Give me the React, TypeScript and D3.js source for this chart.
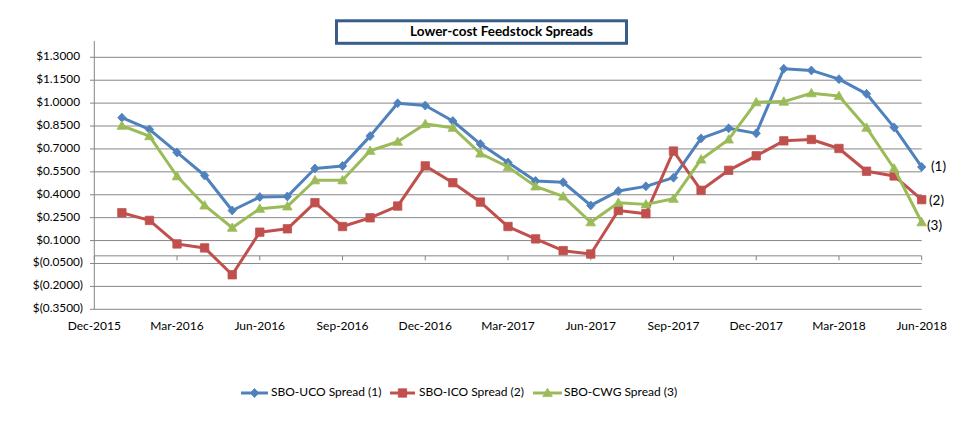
import React from "react";
import * as d3 from "d3";

const monthLabels = ["Dec-2015","Mar-2016","Jun-2016","Sep-2016","Dec-2016","Mar-2017","Jun-2017","Sep-2017","Dec-2017","Mar-2018","Jun-2018"];
// month index: 0 = Dec-2015, data from 1 (Jan-2016) to 30 (Jun-2018)
const monthIdx = d3.range(1, 31);
const uco = [0.905,0.828,0.677,0.526,0.297,0.385,0.389,0.572,0.589,0.784,0.999,0.984,0.883,0.732,0.611,0.490,0.482,0.330,0.424,0.455,0.512,0.769,0.835,0.802,1.225,1.214,1.157,1.061,0.841,0.582];
const ico = [0.282,0.232,0.078,0.052,-0.124,0.155,0.177,0.348,0.192,0.249,0.326,0.589,0.479,0.352,0.192,0.111,0.034,0.012,0.297,0.276,0.686,0.429,0.560,0.655,0.753,0.762,0.703,0.554,0.523,0.368];
const cwg = [0.852,0.784,0.521,0.330,0.184,0.309,0.324,0.495,0.495,0.688,0.747,0.863,0.839,0.670,0.582,0.455,0.389,0.220,0.348,0.337,0.374,0.631,0.762,1.006,1.010,1.065,1.047,0.839,0.572,0.220];
const yTicks = [-0.35,-0.20,-0.05,0.10,0.25,0.40,0.55,0.70,0.85,1.00,1.15,1.30];
const seriesNames = ["SBO-UCO Spread (1)","SBO-ICO Spread (2)","SBO-CWG Spread (3)"];
const endLabels = ["(1)","(2)","(3)"];
const title = "Lower-cost Feedstock Spreads";

const FONT = "Lato, 'Noto Sans', sans-serif";
const colors = ["#4F81BD", "#C0504D", "#9BBB59"];
const markers = ["diamond", "square", "triangle"];

function markerPath(kind: string, cx: number, cy: number) {
  if (kind === "diamond") return `M${cx},${cy - 4.5}L${cx + 4.2},${cy}L${cx},${cy + 4.5}L${cx - 4.2},${cy}Z`;
  if (kind === "square") return `M${cx - 4.2},${cy - 4.2}h8.4v8.4h-8.4Z`;
  return `M${cx},${cy - 4.8}L${cx + 4.8},${cy + 3.6}L${cx - 4.8},${cy + 3.6}Z`;
}

function fmt(v: number) {
  const s = Math.abs(v).toFixed(4);
  return v < 0 ? `$(${s})` : `$${s}`;
}

export default function App() {
  const x = d3.scaleLinear().domain([0, 30]).range([94.3, 921.7]);
  const y = d3.scaleLinear().domain([-0.35, 1.30]).range([309.3, 57.3]);
  const yTop = y(1.407);
  const series = [uco, ico, cwg];
  const line = d3.line<number>().x((_, i) => x(monthIdx[i])).y((d) => y(d));
  const endLabelX = [931, 929, 927];
  const endLabelY = [168, 201.5, 227];
  const legendItems = [
    { x0: 241, x1: 268, tx: 271 },
    { x0: 390, x1: 415, tx: 419 },
    { x0: 533, x1: 562, tx: 564 },
  ];
  const legendY = 393;
  return (
    <svg width={970} height={423} style={{ position: "absolute", left: 0, top: 0, background: "#fff" }} fontFamily={FONT}>
      <rect x={0} y={0} width={970} height={423} fill="#fff" />
      {/* title box */}
      <rect x={336.5} y={20.8} width={290} height={22.5} fill="#fff" stroke="#385D8A" strokeWidth={3} />
      <text x={501.5} y={32.5} textAnchor="middle" dominantBaseline="middle" fontWeight="bold" fontSize={13.5} fill="#000">{title}</text>
      {/* gridlines */}
      {yTicks.map((t) => (
        <line key={t} x1={90} x2={x(30)} y1={y(t)} y2={y(t)} stroke="#868686" strokeWidth={1} />
      ))}
      {/* y axis */}
      <line x1={x(0)} x2={x(0)} y1={yTop} y2={y(-0.35)} stroke="#868686" strokeWidth={1} />
      {yTicks.map((t) => (
        <text key={"l" + t} x={t < 0 ? 83 : 80} y={y(t)} textAnchor="end" dominantBaseline="middle" fontSize={11.8} fill="#000">{fmt(t)}</text>
      ))}
      {/* x axis at zero */}
      <line x1={x(0)} x2={x(30)} y1={y(0)} y2={y(0)} stroke="#868686" strokeWidth={1} />
      {monthLabels.map((m, i) => (
        <g key={m}>
          <line x1={x(i * 3)} x2={x(i * 3)} y1={y(0)} y2={y(0) + 4.5} stroke="#868686" strokeWidth={1} />
          <text x={x(i * 3)} y={326.5} textAnchor="middle" dominantBaseline="middle" fontSize={12} fill="#000">{m}</text>
        </g>
      ))}
      {/* series */}
      {series.map((s, k) => (
        <g key={k}>
          <path d={line(s) || ""} fill="none" stroke={colors[k]} strokeWidth={3} strokeLinejoin="round" strokeLinecap="round" />
          {s.map((v, i) => (
            <path key={i} d={markerPath(markers[k], x(monthIdx[i]), y(v))} fill={colors[k]} stroke={colors[k]} strokeWidth={0.8} />
          ))}
          <text x={endLabelX[k]} y={endLabelY[k]} dominantBaseline="middle" fontSize={13.5} fill="#000">{endLabels[k]}</text>
        </g>
      ))}
      {/* legend */}
      {legendItems.map((it, k) => (
        <g key={"lg" + k}>
          <line x1={it.x0} x2={it.x1} y1={legendY} y2={legendY} stroke={colors[k]} strokeWidth={3} />
          <path d={markerPath(markers[k], (it.x0 + it.x1) / 2, legendY)} fill={colors[k]} stroke={colors[k]} strokeWidth={0.8} />
          <text x={it.tx} y={legendY} dominantBaseline="middle" fontSize={12} fill="#000">{seriesNames[k]}</text>
        </g>
      ))}
    </svg>
  );
}
